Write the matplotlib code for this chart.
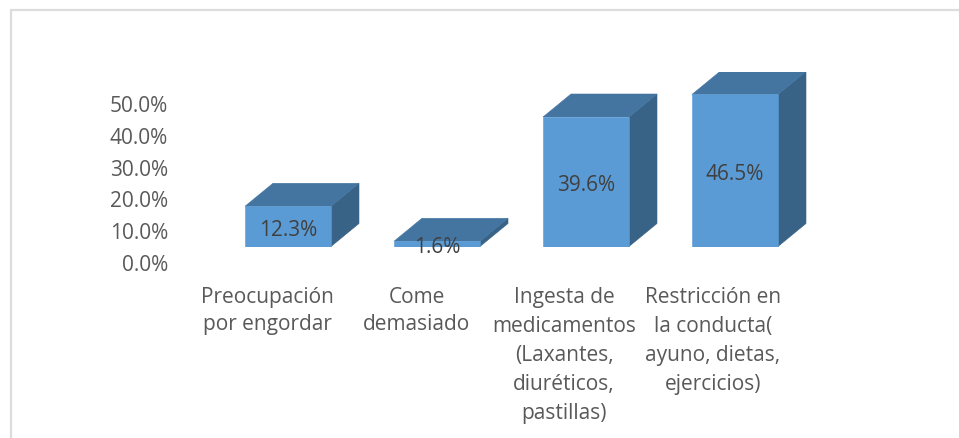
import matplotlib
matplotlib.use("Agg")
import matplotlib.pyplot as plt
from matplotlib.patches import Polygon, Rectangle

W, H = 959, 439
categories = ["Preocupación\npor engordar", "Come\ndemasiado",
              "Ingesta de\nmedicamentos\n(Laxantes,\ndiuréticos,\npastillas)",
              "Restricción en\nla conducta(\nayuno, dietas,\nejercicios)"]
values = [12.3, 1.6, 39.6, 46.5]
value_labels = ["12.3%", "1.6%", "39.6%", "46.5%"]
tick_values = [0, 10, 20, 30, 40, 50]
tick_labels = ["0.0%", "10.0%", "20.0%", "30.0%", "40.0%", "50.0%"]

plt.rcParams['font.family'] = ['Open Sans', 'DejaVu Sans']
FONT = 15.0
TXT = "#595959"

fig = plt.figure(figsize=(W/100, H/100), dpi=100)
fig.patch.set_facecolor("white")

def box(x0, top, x1, bottom):
    return [x0/W, 1-bottom/H, (x1-x0)/W, (bottom-top)/H]

# frame: left and top edges only
frame = fig.add_axes([0, 0, 1, 1], zorder=0)
frame.set_xlim(0, W); frame.set_ylim(H, 0); frame.axis("off")
frame.plot([11, 11, 959], [439, 11, 11], color="#dcdcdc", lw=1.6, solid_joinstyle="miter")

# y axis labels live on their own slightly compressed scale
ya = fig.add_axes(box(168, 104, 173, 263), zorder=1)
ya.set_ylim(0, 50); ya.set_xticks([])
ya.set_yticks(tick_values); ya.set_yticklabels(tick_labels, fontsize=FONT, color=TXT)
ya.tick_params(axis="y", length=0, pad=0)
for s in ya.spines.values():
    s.set_visible(False)
ya.patch.set_alpha(0)

# bars: x in category units, y in percent
ax = fig.add_axes(box(214, 72.5, 850, 247.5), zorder=2)
UNIT = 149.0
x0_px = 288.0
ax.set_xlim((214-x0_px)/UNIT, (850-x0_px)/UNIT)
ax.set_ylim(0, 175/3.27)
ax.axis("off")
BW = 86/UNIT
DX = 28/UNIT
DY = 23/3.27
FRONT, TOP, SIDE = "#5b9bd5", "#4475a1", "#386286"
for i, v in enumerate(values):
    l, r = i-BW/2, i+BW/2
    ax.add_patch(Polygon([(r, 0), (r+DX, DY), (r+DX, v+DY), (r, v)], fc=SIDE, ec=SIDE, lw=0.4))
    ax.add_patch(Polygon([(l, v), (r, v), (r+DX, v+DY), (l+DX, v+DY)], fc=TOP, ec=TOP, lw=0.4))
    ax.add_patch(Rectangle((l, 0), BW, v, fc=FRONT, ec=FRONT, lw=0.4))
    ax.text(i, v/2-0.9, value_labels[i], ha="center", va="center", fontsize=FONT, color="#404040", clip_on=False)

# category labels
centers = [267, 417, 564, 713]
spacing = [1.38, 1.38, 1.5, 1.5]
for c, t, ls in zip(centers, categories, spacing):
    frame.text(c, 287, t, ha="center", va="top", fontsize=FONT, color=TXT, linespacing=ls)

fig.savefig("out.png", dpi=100)
